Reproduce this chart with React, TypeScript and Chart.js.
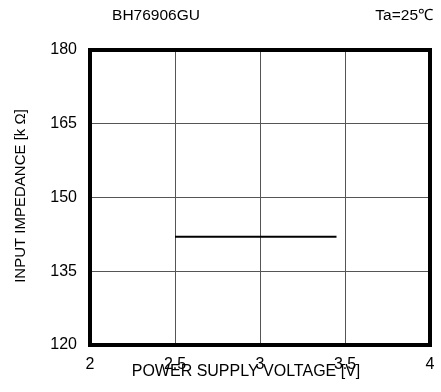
import React, { useEffect, useRef } from "react";
import { Chart, registerables } from "chart.js";

Chart.register(...registerables);

const voltages = [2.5, 3.0, 3.45];
const impedance = [142, 142, 142];
const xTicks = [2, 2.5, 3, 3.5, 4];
const yTicks = [120, 135, 150, 165, 180];
const chartTitle = "BH76906GU";
const condition = "Ta=25℃";
const xTitle = "POWER SUPPLY VOLTAGE [V]";
const yTitle = "INPUT IMPEDANCE [k Ω]";

const TICK_FONT = "'Liberation Sans', Arial, sans-serif";
const TEXT_FONT = "'Liberation Sans', Arial, sans-serif";

const textPlugin = {
  id: "texts",
  afterDraw(chart: any) {
    const { ctx, chartArea } = chart;
    ctx.save();
    ctx.strokeStyle = "#000";
    ctx.lineWidth = 4;
    ctx.strokeRect(chartArea.left, chartArea.top, chartArea.right - chartArea.left, chartArea.bottom - chartArea.top);
    ctx.fillStyle = "#000";
    ctx.font = `15.5px ${TEXT_FONT}`;
    ctx.textBaseline = "middle";
    ctx.textAlign = "center";
    ctx.fillText(chartTitle, 156, 16);
    ctx.textAlign = "right";
    ctx.fillText(condition, 433, 16);
    ctx.textAlign = "center";
    ctx.font = `16px ${TEXT_FONT}`;
    ctx.fillText(xTitle, 246, 372);
    ctx.translate(21, 196);
    ctx.rotate(-Math.PI / 2);
    ctx.font = `15px ${TEXT_FONT}`;
    ctx.fillText(yTitle, 0, 0);
    ctx.restore();
  },
};

export default function App() {
  const ref = useRef<HTMLCanvasElement>(null);
  useEffect(() => {
    document.body.style.margin = "0";
    const chart = new Chart(ref.current!, {
      type: "line",
      data: {
        datasets: [
          {
            data: voltages.map((v, i) => ({ x: v, y: impedance[i] })),
            borderColor: "#000",
            borderWidth: 2,
            pointRadius: 0,
            fill: false,
          },
        ],
      },
      options: {
        animation: false,
        responsive: false,
        layout: { padding: { top: 50, right: 11, left: 0, bottom: 0 } },
        plugins: { legend: { display: false }, tooltip: { enabled: false } },
        scales: {
          x: {
            type: "linear",
            min: 2,
            max: 4,
            afterBuildTicks: (s: any) => {
              s.ticks = xTicks.map((v) => ({ value: v }));
            },
            afterFit: (s: any) => {
              s.height = 47;
              s.paddingLeft = 0;
              s.paddingRight = 0;
            },
            ticks: {
              color: "#000",
              font: { family: TICK_FONT, size: 16 },
              padding: 10,
              maxRotation: 0,
              autoSkip: false,
              callback: (v: any) => String(v),
            },
            grid: { color: "#555", lineWidth: 1, drawTicks: false },
            border: { display: false },
          },
          y: {
            min: 120,
            max: 180,
            afterBuildTicks: (s: any) => {
              s.ticks = yTicks.map((v) => ({ value: v }));
            },
            afterFit: (s: any) => {
              s.width = 90;
              s.paddingTop = 0;
              s.paddingBottom = 0;
            },
            ticks: {
              color: "#000",
              font: { family: TICK_FONT, size: 16 },
              padding: 13,
              autoSkip: false,
              callback: (v: any) => String(v),
            },
            grid: { color: "#555", lineWidth: 1, drawTicks: false },
            border: { display: false },
          },
        },
      },
      plugins: [textPlugin],
    });
    return () => chart.destroy();
  }, []);
  return (
    <div style={{ width: 441, height: 392, background: "#fff" }}>
      <canvas ref={ref} width={441} height={392} style={{ width: 441, height: 392 }} />
    </div>
  );
}
